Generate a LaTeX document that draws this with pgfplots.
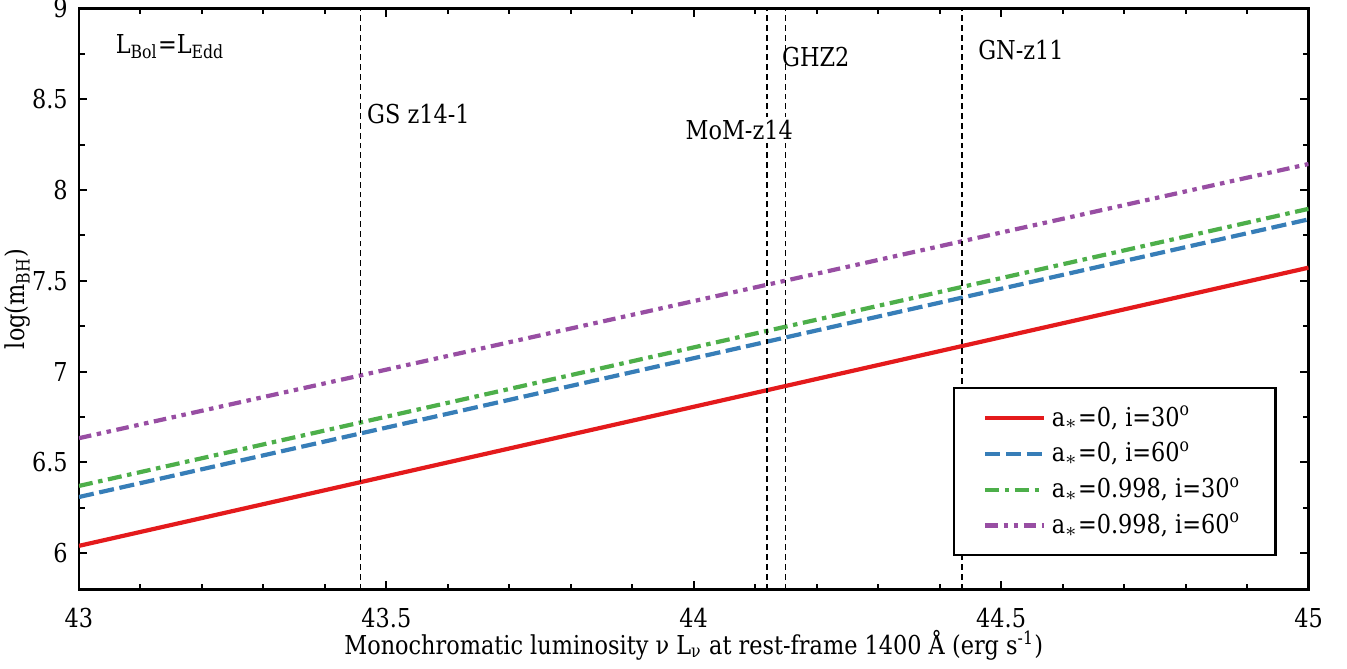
\documentclass[border=0pt]{standalone}
\usepackage{fontspec}
\setmainfont{DejaVu Serif}[FakeStretch=0.86]
\usepackage{pgfplots}
\pgfplotsset{compat=1.18}
\definecolor{cRed}{HTML}{E41A1C}
\definecolor{cBlue}{HTML}{377EB8}
\definecolor{cGreen}{HTML}{4DAF4A}
\definecolor{cPurple}{HTML}{984EA3}

\begin{document}
\begin{tikzpicture}
\begin{axis}[
  scale only axis, width=439.1pt, height=207.5pt,
  xmin=43, xmax=45, ymin=5.8, ymax=9,
  xtick={43,43.5,44,44.5,45}, ytick={6,6.5,7,7.5,8,8.5,9},
  minor x tick num=4, minor y tick num=1,
  tick align=inside, tick pos=both,
  major tick length=3pt, minor tick length=2pt,
  axis line style={line width=1pt}, tick style={black, line width=0.7pt},
  font=\fontsize{9.3}{11}\selectfont,
  tick label style={font=\fontsize{9.3}{11}\selectfont},
  /pgf/number format/assume math mode=true,
  xticklabel style={yshift=-3pt},
  yticklabel style={xshift=-0.5pt},
  xlabel={Monochromatic luminosity ν L\textsubscript{ν} at rest-frame 1400 Å (erg s\textsuperscript{-1})},
  ylabel={log(m\textsubscript{BH})},
  xlabel style={at={(axis description cs:0.5,-0.0965)}, anchor=center},
  ylabel style={at={(axis description cs:-0.0496,0.5)}, anchor=center},
  legend cell align=left,
  legend image code/.code={\draw[#1] (0pt,0pt) -- (21pt,0pt);},
  legend style={at={(0.974,0.057)}, anchor=south east, draw=black, line width=0.8pt,
    inner xsep=10.5pt, inner ysep=4.2pt, row sep=0pt,
    font=\fontsize{9.3}{11}\selectfont,
    /tikz/every even column/.append style={column sep=11pt}},
]
\addplot[cRed, line width=1.5pt] coordinates {(43,6.040) (45,7.572)};
\addplot[cBlue, line width=1.5pt, dash pattern=on 5.4pt off 2pt] coordinates {(43,6.309) (45,7.838)};
\addplot[cGreen, line width=1.5pt, dash pattern=on 5pt off 2pt on 1.6pt off 2pt] coordinates {(43,6.370) (45,7.896)};
\addplot[cPurple, line width=1.5pt, dash pattern=on 4.5pt off 2pt on 1.6pt off 2pt on 1.6pt off 2pt] coordinates {(43,6.633) (45,8.143)};
\legend{{a$_*$=0, i=30\textsuperscript{o}}, {a$_*$=0, i=60\textsuperscript{o}}, {a$_*$=0.998, i=30\textsuperscript{o}}, {a$_*$=0.998, i=60\textsuperscript{o}}}

% source markers
\addplot[black, line width=0.6pt, dash pattern=on 2.1pt off 1.4pt, forget plot] coordinates {(43.458,5.8) (43.458,9)};
\addplot[black, line width=0.6pt, dash pattern=on 2.1pt off 1.4pt, forget plot] coordinates {(44.119,5.8) (44.119,9)};
\addplot[black, line width=0.6pt, dash pattern=on 2.1pt off 1.4pt, forget plot] coordinates {(44.149,5.8) (44.149,9)};
\addplot[black, line width=0.6pt, dash pattern=on 2.1pt off 1.4pt, forget plot] coordinates {(44.436,5.8) (44.436,9)};

\node[anchor=west, inner sep=0pt] at (axis cs:43.059,8.79) {L\textsubscript{Bol}=L\textsubscript{Edd}};
\node[anchor=west, inner sep=0pt] at (axis cs:43.468,8.42) {GS z14-1};
\node[fill=white, inner sep=1pt] at (axis cs:44.074,8.33) {MoM-z14};
\node[anchor=west, inner sep=0pt] at (axis cs:44.143,8.73) {GHZ2};
\node[anchor=west, inner sep=0pt] at (axis cs:44.462,8.77) {GN-z11};
\end{axis}
\path (current axis.south west) ++(-28.2pt,-28.1pt) coordinate (bl);
\path (current axis.north east) ++(13.75pt,3pt) coordinate (tr);
\pgfresetboundingbox
\path[use as bounding box] (bl) rectangle (tr);
\end{tikzpicture}
\end{document}
